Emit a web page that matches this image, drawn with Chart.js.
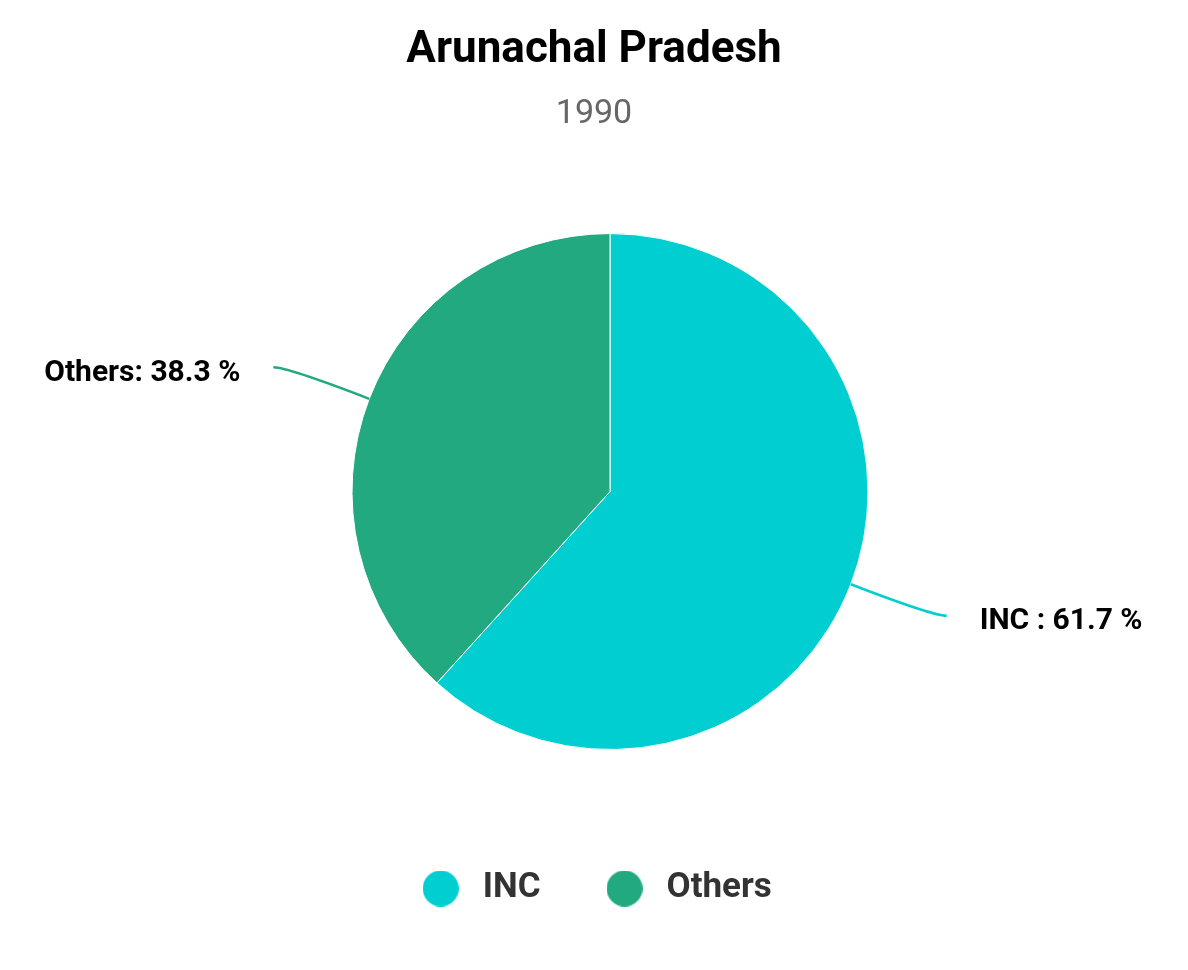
<!DOCTYPE html>
<html>
<head>
<meta charset="utf-8">
<title>Arunachal Pradesh 1990</title>
<script src="https://cdn.jsdelivr.net/npm/chart.js@4/dist/chart.umd.min.js"></script>
<style>
  html, body { margin: 0; padding: 0; background: #fff; }
</style>
</head>
<body>
<canvas id="pieChart" width="1188" height="970"></canvas>
<script>
const labels = ["INC", "Others"];
const calloutNames = ["INC ", "Others"];
const shares = [61.7, 38.3];
const colors = ["#00CED1", "#22A97F"];

// legend dots: round canvases so the gap to the text can be set freely
function dot(color) {
  const c = document.createElement("canvas");
  c.width = 36;
  c.height = 36;
  const g = c.getContext("2d");
  g.fillStyle = color;
  g.beginPath();
  g.arc(18, 18, 18, 0, Math.PI * 2);
  g.fill();
  return c;
}
const dots = colors.map(dot);

// empty box on the left, shifts the pie a little right like the original
const leftSpacer = {
  id: "leftSpacer",
  install(chart) {
    Chart.layouts.addBox(chart, {
      position: "left",
      fullSize: false,
      weight: 0,
      options: {},
      width: 0,
      height: 0,
      update(maxWidth, maxHeight) {
        this.width = 32;
        this.height = maxHeight;
      },
      isHorizontal() { return false; },
      draw() {}
    });
  }
};

// outside labels with a bent leader line
const callouts = {
  id: "callouts",
  afterDatasetsDraw(chart) {
    const ctx = chart.ctx;
    const meta = chart.getDatasetMeta(0);
    meta.data.forEach((arc, i) => {
      const { x, y, outerRadius, startAngle, endAngle } =
        arc.getProps(["x", "y", "outerRadius", "startAngle", "endAngle"], true);
      const mid = (startAngle + endAngle) / 2;
      const cos = Math.cos(mid), sin = Math.sin(mid);
      const side = cos >= 0 ? 1 : -1;
      const x0 = x + cos * outerRadius, y0 = y + sin * outerRadius;
      const bx = x + cos * outerRadius * 1.34, by = y + sin * outerRadius * 1.34;
      const x1 = bx + side * 14, y1 = by;

      ctx.save();
      ctx.strokeStyle = colors[i];
      ctx.lineWidth = 2.5;
      ctx.beginPath();
      ctx.moveTo(x0, y0);
      ctx.quadraticCurveTo(bx, by, x1, y1);
      ctx.stroke();

      ctx.font = "bold 30px Roboto";
      ctx.fillStyle = "#000";
      ctx.textAlign = side > 0 ? "left" : "right";
      ctx.textBaseline = "middle";
      ctx.fillText(calloutNames[i] + ": " + shares[i].toFixed(1) + " %", x1 + side * 33, y1 + 6);
      ctx.restore();
    });
  }
};

new Chart(document.getElementById("pieChart"), {
  type: "pie",
  data: {
    labels: labels,
    datasets: [{
      data: shares,
      backgroundColor: colors,
      borderColor: "#ffffff",
      borderWidth: 1,
      radius: 258
    }]
  },
  options: {
    responsive: false,
    animation: false,
    events: [],
    layout: { padding: { bottom: 54 } },
    plugins: {
      title: {
        display: true,
        text: "Arunachal Pradesh",
        color: "#000",
        font: { family: "Roboto", size: 44, weight: "bold" },
        padding: { top: 25, bottom: 16 }
      },
      subtitle: {
        display: true,
        text: "1990",
        color: "#666",
        font: { family: "Roboto", size: 34 },
        padding: { top: 0, bottom: 37 }
      },
      legend: {
        position: "bottom",
        labels: {
          usePointStyle: true,
          pointStyleWidth: 49,
          boxHeight: 25,
          padding: 59.5,
          color: "#333",
          font: { family: "Roboto", size: 35, weight: "bold" },
          generateLabels: chart => labels.map((text, i) => ({
            text: text,
            fillStyle: colors[i],
            strokeStyle: colors[i],
            fontColor: "#333",
            lineWidth: 0,
            pointStyle: dots[i],
            hidden: !chart.getDataVisibility(i),
            index: i
          }))
        }
      },
      tooltip: { enabled: false }
    }
  },
  plugins: [leftSpacer, callouts]
});
</script>
</body>
</html>
